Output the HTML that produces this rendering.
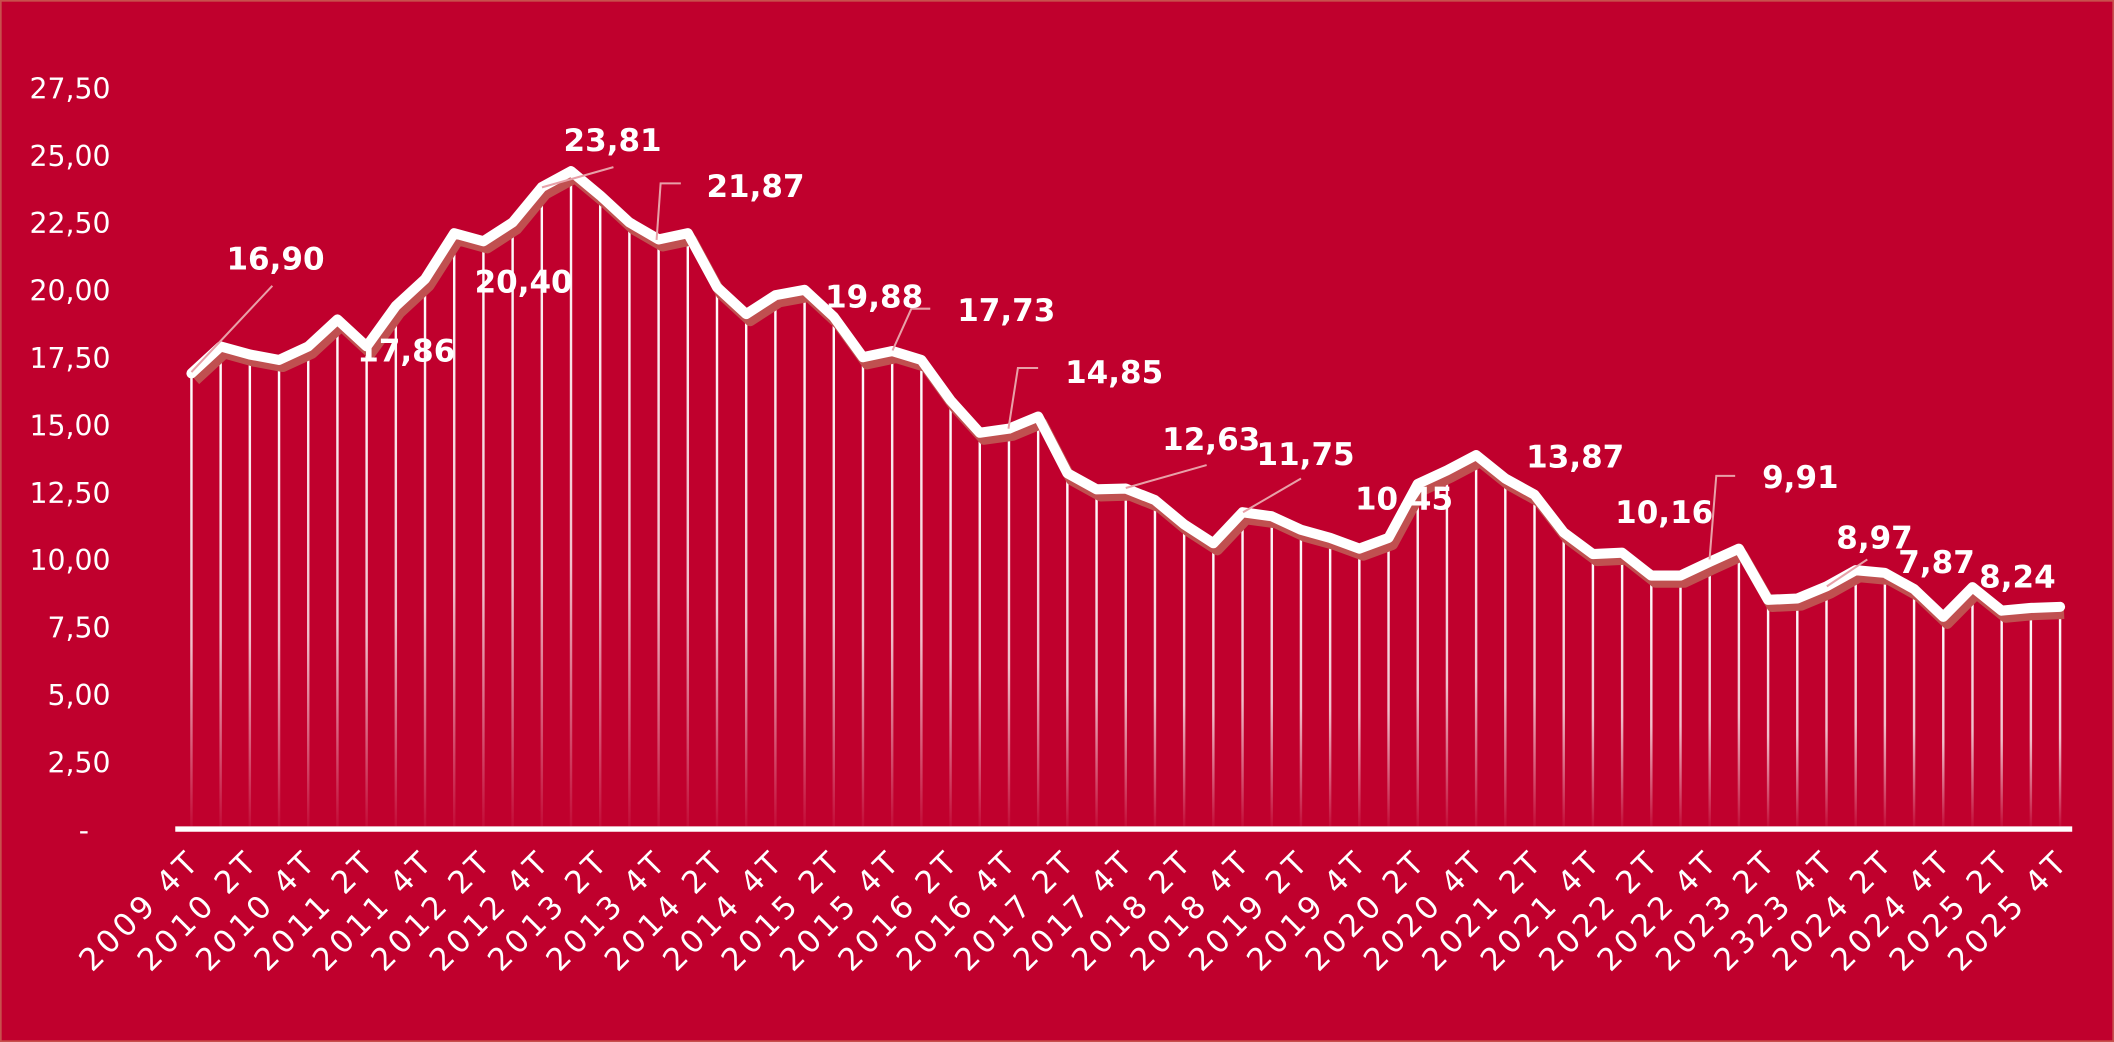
<!DOCTYPE html>
<html><head><meta charset="utf-8"><style>
html,body{margin:0;padding:0;background:#c0002d;}
svg{display:block;}
text{font-family:"DejaVu Sans","Liberation Sans",sans-serif;fill:#fff;}
</style></head><body>
<svg width="2114" height="1042" viewBox="0 0 1568 773" preserveAspectRatio="none" xmlns="http://www.w3.org/2000/svg">
<defs>
<linearGradient id="g" x1="0" y1="0" x2="0" y2="1" gradientUnits="objectBoundingBox">
<stop offset="0" stop-color="#fff" stop-opacity="1"/>
<stop offset="0.6" stop-color="#fff" stop-opacity="0.75"/>
<stop offset="1" stop-color="#fff" stop-opacity="0.05"/>
</linearGradient>
</defs>
<rect x="0.5" y="0.5" width="1567" height="772" fill="#c0002d" stroke="#c8504d" stroke-width="1.5"/>
<g id="ylab" font-size="21" text-anchor="end"></g>
<g id="drops"></g>
<polyline id="shadow" fill="none" stroke="#c05050" stroke-width="8" stroke-linejoin="round"/>
<polyline id="line" fill="none" stroke="#fff" stroke-width="7.5" stroke-linejoin="round" stroke-linecap="round"/>
<line x1="130" y1="615" x2="1537" y2="615" stroke="#fff" stroke-width="4"/>
<g id="xlab" font-size="23"></g>
<g fill="none" stroke="#e8a0a8" stroke-width="1.5">
<polyline points="202,212 142,276"/>
<polyline points="455,124 402,139"/>
<polyline points="505,136 490,136 487,178"/>
<polyline points="690,229 676,229 662,260"/>
<polyline points="770,273 755,273 748,318"/>
<polyline points="895,345 835,362"/>
<polyline points="965,355 922,380"/>
<polyline points="1287,353 1273,353 1268,415"/>
<polyline points="1385,415 1355,435"/>
</g>
<g font-size="23" font-weight="bold">
<text x="168" y="200">16,90</text>
<text x="265" y="268">17,86</text>
<text x="352" y="217">20,40</text>
<text x="418" y="112">23,81</text>
<text x="524" y="146">21,87</text>
<text x="612" y="228">19,88</text>
<text x="710" y="238">17,73</text>
<text x="790" y="284">14,85</text>
<text x="862" y="334">12,63</text>
<text x="932" y="345">11,75</text>
<text x="1005" y="378">10,45</text>
<text x="1132" y="347">13,87</text>
<text x="1198" y="388">10,16</text>
<text x="1307" y="362">9,91</text>
<text x="1362" y="407">8,97</text>
<text x="1408" y="425">7,87</text>
<text x="1468" y="436">8,24</text>
</g>
</svg>
<script>
var v=[16.9,17.9,17.6,17.4,17.9,18.9,17.9,19.4,20.4,22.1,21.8,22.5,23.81,24.4,23.5,22.5,21.87,22.1,20.1,19.1,19.8,20.0,19.0,17.5,17.73,17.4,15.9,14.7,14.85,15.3,13.2,12.6,12.63,12.2,11.3,10.6,11.75,11.6,11.1,10.8,10.4,10.8,12.8,13.3,13.87,13.0,12.4,11.0,10.2,10.25,9.4,9.4,9.91,10.4,8.5,8.55,9.0,9.6,9.5,8.9,7.87,8.97,8.1,8.2,8.24];
var ns="http://www.w3.org/2000/svg";
function X(i){return 142+i*(1528-142)/64;}
function Y(a){return 615-a*20;}
var p=[],s=[],d=document.getElementById('drops');
for(var i=0;i<v.length;i++){p.push(X(i)+','+Y(v[i]));s.push((X(i)+3)+','+(Y(v[i])+5));
var r=document.createElementNS(ns,'rect');r.setAttribute('x',X(i)-0.9);r.setAttribute('y',Y(v[i]));r.setAttribute('width',1.8);r.setAttribute('height',613-Y(v[i]));r.setAttribute('fill','url(#g)');d.appendChild(r);}
document.getElementById('line').setAttribute('points',p.join(' '));
document.getElementById('shadow').setAttribute('points',s.join(' '));
var yl=document.getElementById('ylab');
for(var k=0;k<=11;k++){var t=document.createElementNS(ns,'text');t.setAttribute('x',82);t.setAttribute('y',Y(k*2.5)+8);t.textContent=k==0?'-':(k*2.5).toFixed(2).replace('.',',');if(k==0)t.setAttribute('x',66);yl.appendChild(t);}
var xl=document.getElementById('xlab');
for(var j=0;j<33;j++){var q=j*2;var y=2009+Math.floor((q+3)/4);var qt=((q+3)%4)+1;var lab=(y==2023&&qt==4?'2323':y)+' '+qt+'T';
var t=document.createElementNS(ns,'text');var x=X(q)+8,yy=640;t.setAttribute('x',x);t.setAttribute('y',yy);t.setAttribute('text-anchor','end');t.setAttribute('letter-spacing','3');t.setAttribute('transform','rotate(-45 '+x+' '+yy+')');t.textContent=lab;xl.appendChild(t);}
</script>
</body></html>
